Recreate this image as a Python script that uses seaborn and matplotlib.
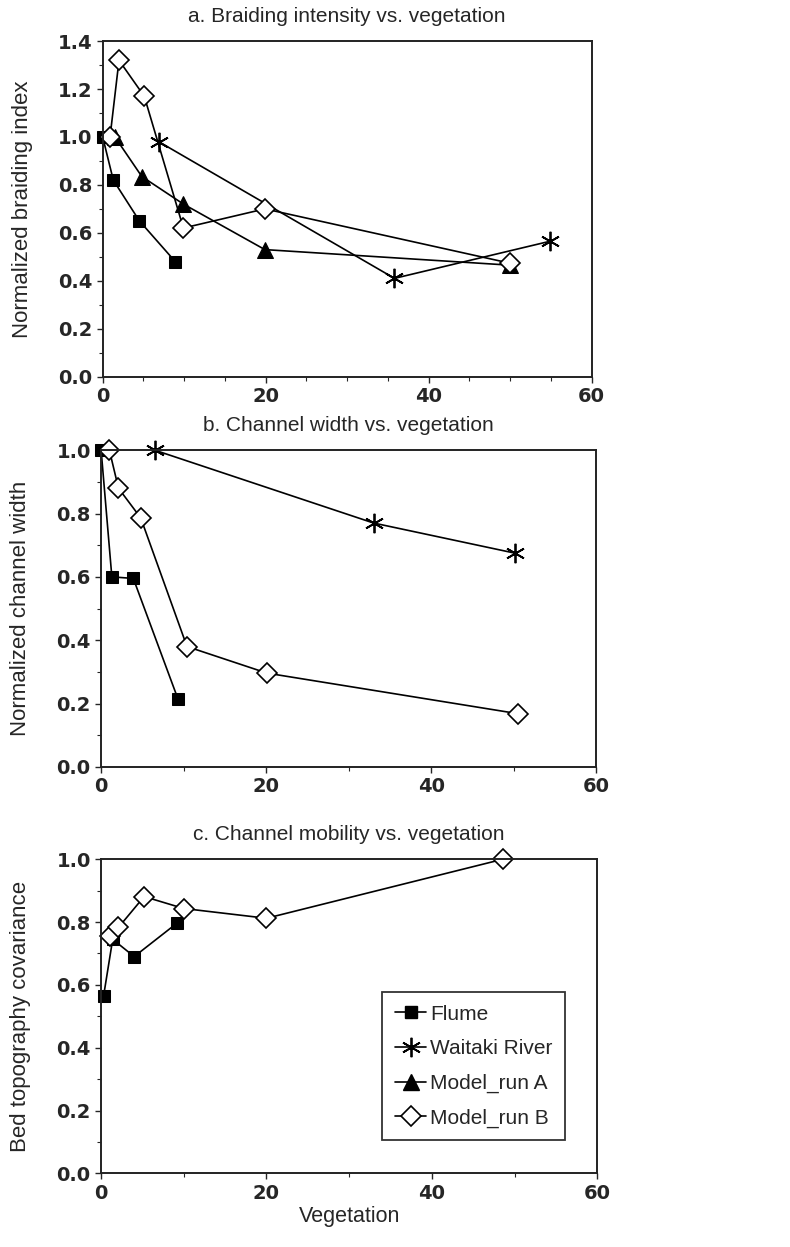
import numpy as np
import pandas as pd
import seaborn as sns
import matplotlib.pyplot as plt
from matplotlib.lines import Line2D
from matplotlib.ticker import MultipleLocator, FormatStrFormatter

# --- data ---
# a. braiding intensity
flume_a_x = [0, 1.3, 4.5, 8.9]
flume_a_y = [1.0, 0.82, 0.65, 0.48]
waitaki_a_x = [6.9, 35.8, 54.9]
waitaki_a_y = [0.98, 0.41, 0.565]
runA_a_x = [1.5, 4.8, 9.9, 19.9, 50.0]
runA_a_y = [1.0, 0.835, 0.72, 0.53, 0.465]
runB_a_x = [0.9, 2.0, 5.1, 9.9, 19.9, 50.0]
runB_a_y = [1.0, 1.32, 1.17, 0.62, 0.70, 0.473]

# b. channel width
flume_b_x = [0, 1.3, 3.9, 9.3]
flume_b_y = [1.0, 0.60, 0.595, 0.215]
waitaki_b_x = [6.5, 33.0, 50.1]
waitaki_b_y = [1.0, 0.77, 0.675]
runB_b_x = [1.0, 2.1, 4.8, 10.4, 20.1, 50.5]
runB_b_y = [1.0, 0.88, 0.786, 0.38, 0.296, 0.168]

# c. channel mobility
flume_c_x = [0.3, 1.4, 4.0, 9.2]
flume_c_y = [0.565, 0.745, 0.69, 0.797]
runB_c_x = [1.1, 2.1, 5.2, 10.0, 20.0, 48.6]
runB_c_y = [0.755, 0.783, 0.881, 0.843, 0.812, 1.0]

series_names = ['Flume', 'Waitaki River', 'Model_run A', 'Model_run B']
titles = ['a. Braiding intensity vs. vegetation',
          'b. Channel width vs. vegetation',
          'c. Channel mobility vs. vegetation']
ylabels = ['Normalized braiding index',
           'Normalized channel width',
           'Bed topography covariance']

sns.set_style('ticks')
plt.rcParams['font.family'] = ['Liberation Sans', 'DejaVu Sans']

# marker styles per series
styles = {
    'Flume': dict(marker='s', markersize=9, markerfacecolor='black'),
    'Waitaki River': dict(marker=(6, 2, 0), markersize=14, markerfacecolor='black',
                          markeredgewidth=1.3),
    'Model_run A': dict(marker='^', markersize=11, markerfacecolor='black'),
    'Model_run B': dict(marker='D', markersize=10, markerfacecolor='white',
                        markeredgewidth=1.2),
}

panels = [
    {'Flume': (flume_a_x, flume_a_y), 'Waitaki River': (waitaki_a_x, waitaki_a_y),
     'Model_run A': (runA_a_x, runA_a_y), 'Model_run B': (runB_a_x, runB_a_y)},
    {'Flume': (flume_b_x, flume_b_y), 'Waitaki River': (waitaki_b_x, waitaki_b_y),
     'Model_run B': (runB_b_x, runB_b_y)},
    {'Flume': (flume_c_x, flume_c_y), 'Model_run B': (runB_c_x, runB_c_y)},
]

fig = plt.figure(figsize=(7.9, 12.47), dpi=100)
boxes = [[0.130, 0.698, 0.619, 0.269],
         [0.128, 0.385, 0.627, 0.254],
         [0.128, 0.059, 0.628, 0.252]]
ytops = [1.4, 1.0, 1.0]
xminor = [5, 10, 10]

for i, box in enumerate(boxes):
    ax = fig.add_axes(box)
    # model B drawn last so the diamonds sit on top
    for name in series_names:
        if name not in panels[i]:
            continue
        xs, ys = panels[i][name]
        df = pd.DataFrame({'x': xs, 'y': ys})
        sns.lineplot(data=df, x='x', y='y', ax=ax, color='black', lw=1.2,
                     sort=False, estimator=None, markeredgecolor='black',
                     clip_on=False, **styles[name])
    ax.set_xlim(0, 60)
    ax.set_ylim(0, ytops[i])
    ax.xaxis.set_major_locator(MultipleLocator(20))
    ax.xaxis.set_minor_locator(MultipleLocator(xminor[i]))
    ax.yaxis.set_major_locator(MultipleLocator(0.2))
    ax.yaxis.set_minor_locator(MultipleLocator(0.1))
    ax.yaxis.set_major_formatter(FormatStrFormatter('%.1f'))
    ax.tick_params(axis='both', which='major', length=4, width=1, labelsize=14)
    ax.tick_params(axis='both', which='minor', length=3, width=0.8)
    for lab in ax.get_xticklabels() + ax.get_yticklabels():
        lab.set_fontweight('bold')
        lab.set_family(['DejaVu Sans'])
    for sp in ax.spines.values():
        sp.set_linewidth(1.4)
        sp.set_color('#222222')
    ax.set_title(titles[i], fontsize=15, pad=14)
    ax.set_ylabel(ylabels[i], fontsize=16, labelpad=18)
    ax.set_xlabel('')

    if i == 2:
        ax.set_xlabel('Vegetation', fontsize=15.5, labelpad=2)
        handles = [Line2D([], [], color='black', lw=1.2, markeredgecolor='black',
                          **styles[n]) for n in series_names]
        leg = ax.legend(handles, series_names, loc='lower left',
                        bbox_to_anchor=(0.567, 0.105), fontsize=15,
                        frameon=True, fancybox=False, edgecolor='black',
                        handlelength=1.5, handletextpad=0.2, labelspacing=0.75,
                        borderpad=0.6, borderaxespad=0)
        leg.get_frame().set_linewidth(1.3)

fig.savefig('out.png', dpi=100)
